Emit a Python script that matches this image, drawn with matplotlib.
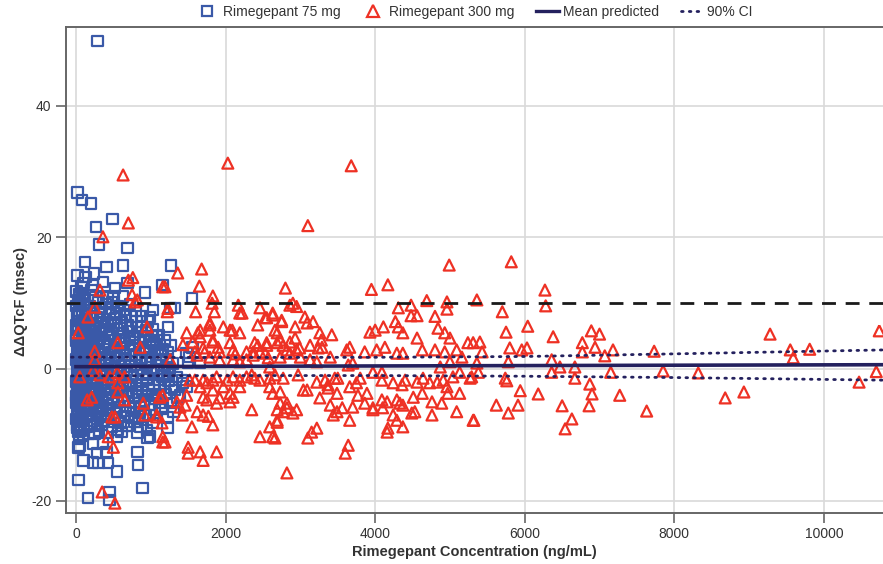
import matplotlib
matplotlib.use("Agg")
import matplotlib.pyplot as plt
from matplotlib.lines import Line2D

# ---- data ----
# Rimegepant 75 mg (blue squares): concentration (ng/mL), ddQTcF (msec)
blue_pts = [
    # outliers / edges
    (290, 49.9), (20, 26.8), (80, 25.7), (200, 25.2), (490, 22.8), (270, 21.6),
    (310, 18.9), (690, 18.4), (120, 16.3), (410, 15.5), (630, 15.7), (1270, 15.7),
    (20, 14.2), (130, 14.0), (240, 14.5), (360, 13.2), (690, 13.1), (1160, 12.8),
    (520, 12.3), (100, 13.1), (230, 12.8), (920, 11.6), (1550, 10.8), (1320, 9.3),
    (50, 11.3), (360, 11.0), (500, 11.0), (630, 11.0), (1030, 9.0), (1260, 9.3),
    (990, 7.9), (1080, 4.9), (1230, 6.4), (1560, 3.3), (1480, 2.4), (1500, 0.9),
    (1660, 0.9), (1520, 1.8), (1430, -2.1), (1350, -1.2), (1220, -0.2), (1360, -4.3),
    (1260, -5.2), (1120, -5.2), (1220, -7.3), (1030, -8.2), (950, -9.3), (860, -8.8),
    (820, -9.7), (1220, -9.0), (990, -10.3), (550, -10.3), (360, -11.3), (230, -11.3),
    (50, -11.6), (30, -11.9), (280, -12.8), (410, -12.6), (230, -14.2), (430, -14.3),
    (550, -15.6), (820, -12.6), (830, -14.6), (100, -13.9), (300, -14.3), (30, -16.9),
    (160, -19.6), (450, -18.7), (450, -19.9), (890, -18.1), (960, -10.5), (1420, -1.7),
    (1480, -2.7), (1320, -3.2), (1390, -4.0), (1300, -6.5), (1160, -5.8),
    # dense cluster, 0-100
    (10, 11.8), (30, 10.5), (5, 9.6), (40, 8.8), (15, 8.0), (50, 7.3), (0, 6.6),
    (25, 5.9), (45, 5.0), (8, 4.3), (35, 3.6), (18, 2.8), (55, 2.1), (2, 1.4),
    (28, 0.7), (42, 0.0), (12, -0.6), (38, -1.3), (6, -2.0), (50, -2.7), (22, -3.4),
    (0, -4.1), (33, -4.8), (48, -5.5), (14, -6.2), (26, -6.9), (4, -7.6), (44, -8.4),
    (20, -9.0), (36, -9.6),
    (60, 10.0), (20, 8.4), (70, 7.0), (35, 6.3), (90, 5.6), (10, 4.9), (60, 3.9),
    (25, 3.1), (85, 2.4), (45, 1.8), (15, 1.0), (65, 0.3), (30, -0.3), (80, -1.0),
    (55, -1.7), (18, -2.4), (70, -3.0), (40, -3.7), (88, -4.4), (8, -5.1), (62, -5.8),
    (30, -6.5), (75, -7.2), (52, -8.0), (15, -8.6), (65, -9.4), (95, -10.2), (40, -10.6),
    # 100-300
    (70, 12.4), (90, 11.0), (120, 9.9), (150, 8.9), (80, 8.2), (110, 7.4), (170, 6.8),
    (65, 6.1), (140, 5.5), (190, 4.9), (95, 4.4), (130, 3.9), (175, 3.3), (75, 2.7),
    (160, 2.2), (105, 1.6), (185, 1.1), (85, 0.5), (145, -0.1), (115, -0.7), (195, -1.3),
    (68, -1.9), (135, -2.5), (165, -3.1), (100, -3.7), (180, -4.3), (78, -4.9),
    (125, -5.6), (155, -6.3), (92, -7.0), (140, -7.8), (190, -8.4), (110, -9.2), (170, -9.9),
    (115, 10.6), (180, 9.6), (240, 9.3), (130, 8.2), (200, 7.7), (260, 6.9), (105, 6.5),
    (170, 5.9), (240, 4.7), (120, 4.9), (200, 4.1), (280, 3.8), (150, 3.1), (220, 2.5),
    (125, 2.0), (260, 1.7), (175, 0.9), (240, 0.2), (110, 0.1), (200, -0.4), (270, -0.9),
    (150, -1.6), (225, -2.2), (110, -2.8), (195, -3.4), (260, -3.0), (130, -4.2),
    (230, -4.8), (170, -5.3), (270, -5.6), (105, -6.0), (210, -7.1), (150, -8.8),
    (250, -9.9), (290, -7.6),
    # 200-600
    (210, 12.0), (260, 10.9), (300, 10.1), (350, 9.3), (230, 8.6), (280, 7.8), (330, 7.1),
    (380, 6.5), (220, 5.8), (270, 5.2), (320, 4.6), (370, 4.0), (240, 3.4), (290, 2.8),
    (340, 2.2), (390, 1.6), (215, 1.0), (265, 0.4), (315, -0.2), (365, -0.8), (235, -1.4),
    (285, -2.0), (335, -2.6), (385, -3.2), (250, -3.9), (300, -4.5), (355, -5.1),
    (205, -5.8), (275, -6.5), (325, -7.2), (375, -7.9), (245, -8.6), (310, -9.4), (360, -6.0),
    (320, 8.6), (400, 9.9), (470, 9.1), (540, 8.5), (360, 7.6), (430, 7.1), (500, 6.6),
    (580, 6.2), (340, 5.8), (450, 5.1), (530, 4.4), (600, 3.9), (310, 3.4), (390, 3.0),
    (470, 2.5), (550, 2.0), (330, 1.2), (410, 0.6), (490, 0.1), (570, -0.4), (340, -1.1),
    (420, -1.7), (500, -2.2), (580, -2.7), (310, -3.5), (400, -3.9), (480, -4.3),
    (560, -4.7), (330, -5.7), (450, -5.9), (540, -6.6), (400, -6.9), (350, -8.4),
    (480, -8.8), (560, -9.3), (420, -9.7),
    # 400-900
    (420, 10.9), (480, 10.2), (560, 9.6), (640, 9.0), (450, 8.3), (530, 7.7), (610, 7.1),
    (690, 6.6), (410, 6.0), (490, 5.4), (570, 4.9), (650, 4.3), (430, 3.8), (510, 3.2),
    (590, 2.7), (670, 2.1), (440, 1.6), (520, 1.0), (600, 0.5), (680, -0.1), (460, -0.6),
    (540, -1.2), (620, -1.8), (700, -2.3), (470, -2.9), (550, -3.5), (630, -4.1),
    (415, -4.6), (500, -5.2), (580, -5.8), (660, -6.4), (435, -7.0), (515, -7.6),
    (595, -8.2), (675, -8.7),
    (650, 8.2), (730, 8.0), (810, 7.2), (870, 6.5), (620, 5.5), (700, 5.8), (780, 4.7),
    (860, 4.1), (640, 3.2), (720, 2.8), (800, 2.2), (880, 1.7), (650, 1.4), (730, 0.4),
    (820, -0.3), (900, -0.9), (640, -0.6), (720, -2.5), (800, -3.0), (880, -3.5),
    (620, -3.0), (700, -4.9), (790, -5.2), (870, -5.6), (650, -7.2), (740, -7.4),
    (830, -7.6), (700, -8.6), (610, -9.6),
    # 700-1300
    (720, 9.9), (800, 8.9), (880, 8.0), (960, 7.2), (740, 6.3), (820, 5.6), (900, 4.9),
    (980, 4.2), (760, 3.6), (840, 3.0), (920, 2.4), (990, 1.8), (710, 1.2), (790, 0.6),
    (870, 0.0), (950, -0.6), (730, -1.2), (810, -1.8), (890, -2.4), (970, -3.0),
    (750, -3.6), (830, -4.2), (910, -4.8), (990, -5.4), (770, -6.0), (850, -6.6),
    (930, -7.1), (705, -4.0), (780, -8.0), (720, 5.0),
    (1020, 6.0), (1100, 5.2), (1180, 4.3), (1260, 3.6), (1050, 2.9), (1130, 2.2),
    (1210, 1.5), (1290, 0.8), (1000, 0.2), (1080, -0.5), (1160, -1.1), (1240, -1.8),
    (1040, -2.5), (1120, -3.2), (1200, -3.8), (1280, -2.8), (1060, -4.5), (1140, -6.1),
    (1030, 3.8), (1250, -0.2),
    (940, 5.9), (1010, 5.0), (1080, 3.7), (1160, 3.0), (930, 3.3), (1000, 2.6),
    (1070, 1.5), (1140, 0.6), (1220, 0.2), (960, 1.0), (1040, -0.2), (1110, -1.6),
    (1190, -2.3), (940, -1.6), (1020, -3.8), (1100, -4.1), (950, -4.1), (1050, -6.2),
    (980, -7.0), (1180, -1.0), (1230, 2.6),
]

# Rimegepant 300 mg (red triangles)
red_pts = [
    (630, 29.5), (2030, 31.3), (3680, 30.9), (3100, 21.8), (700, 22.2), (360, 20.1),
    (4990, 15.8), (5820, 16.3), (760, 13.9), (1360, 14.6), (1680, 15.2), (1650, 12.6),
    (2800, 12.3), (3950, 12.1), (4170, 12.8), (6270, 12.0), (1160, 12.5), (1190, 12.5),
    (320, 12.0),
    (2900, 10.0), (2950, 9.5), (2460, 9.3), (4310, 9.3), (4480, 9.7), (4480, 8.1),
    (4560, 8.1), (4690, 10.4), (4800, 8.0), (4960, 10.2), (4960, 9.1), (5360, 10.5),
    (6280, 9.6), (5700, 8.7), (1830, 11.1), (1820, 10.0), (1850, 8.7), (1600, 8.7),
    (2170, 9.7), (2220, 8.5), (820, 10.5), (750, 11.3), (250, 9.4), (160, 7.9), (1230, 9.2),
    (2530, 7.8), (2630, 8.2), (2430, 6.7), (2750, 7.4), (3060, 7.9), (3090, 7.0),
    (3170, 7.2), (2660, 5.9), (2690, 5.5), (3260, 5.5), (3420, 5.2), (3280, 4.4),
    (2730, 4.4), (2770, 3.6), (2690, 4.0), (2430, 3.6), (2550, 4.0), (2930, 4.7),
    (3130, 3.6), (3240, 3.2), (3290, 3.3), (2820, 2.9), (2990, 3.2), (2860, 2.4),
    (3620, 2.9), (3660, 3.3), (3860, 2.6), (3930, 5.6), (4000, 5.9), (4110, 6.4),
    (4270, 7.2), (4310, 6.4), (4370, 5.5), (4840, 6.2), (4930, 5.5), (5000, 4.7),
    (4560, 4.7), (4020, 2.9), (4130, 3.3), (4290, 2.4), (4370, 2.4), (4630, 2.9),
    (4800, 2.9), (4930, 2.6), (5090, 2.9), (5240, 4.0), (5310, 4.0), (5400, 4.1),
    (5160, 1.8), (4870, 0.3), (5000, 1.1), (3640, 0.6), (3700, 0.9), (3400, 1.8),
    (2370, 2.1), (2530, 2.4), (2570, 1.7), (3000, 1.8), (3130, 1.4), (3220, 1.1), (2590, 0.3),
    (1660, 5.9), (1790, 6.7), (1790, 5.9), (1970, 6.4), (2060, 5.9), (2190, 5.5),
    (1480, 5.5), (1430, 3.7), (1560, 4.1), (1700, 3.2), (1830, 4.1), (1920, 2.6),
    (2060, 4.0), (2100, 2.9), (2390, 4.0), (2550, 3.6), (2860, 4.1), (2950, 2.9),
    (2370, 2.6), (2460, 2.6), (2730, 1.8), (1620, 2.1), (1790, 1.8), (1920, 1.4),
    (2100, 1.4), (2190, 1.1), (2280, 1.4), (2190, 8.5), (2630, 8.5), (2860, 9.7),
    (2750, 7.2), (2930, 6.4), (2550, 7.8), (1630, 5.5), (1790, 7.0), (1660, 4.9),
    (2090, 5.9), (1830, 4.4), (1590, 2.6), (1720, 2.6), (1900, 3.3), (2130, 2.3),
    (2280, 2.6), (1260, 1.4),
    (2390, -1.4), (2350, -0.9), (2660, -0.9), (2770, -1.4), (2970, -0.9), (3970, -0.5),
    (4090, -0.5), (4090, -1.7), (4240, -2.1), (4360, -2.4), (4400, -1.7), (4560, -2.0),
    (4640, -1.4), (4730, -2.1), (4830, -2.0), (4910, -1.7), (4960, -2.7), (5040, -1.2),
    (5130, -0.5), (5270, -1.4), (3220, -2.0), (3330, -1.7), (3370, -2.4), (3460, -1.4),
    (3500, -1.4), (3660, -2.7), (3750, -2.1), (3800, -1.4), (2730, -3.5), (3040, -3.2),
    (3090, -3.2), (3370, -2.9), (3490, -3.7), (3260, -4.4), (3770, -4.0), (3890, -3.7),
    (3860, -5.2), (3970, -5.9), (4090, -4.7), (4160, -5.0), (4290, -4.7), (4330, -5.2),
    (4370, -5.5), (4510, -4.3), (4630, -3.7), (4760, -5.0), (4890, -5.2), (4970, -3.7),
    (5130, -3.7), (2730, -5.2), (2820, -5.9), (2900, -6.7), (2950, -6.2), (3400, -5.5),
    (3560, -5.9), (3700, -5.8), (3440, -7.0), (3490, -6.5), (3660, -7.8), (3970, -6.2),
    (4100, -5.9), (4240, -7.0), (4290, -7.8), (4370, -8.8), (4490, -6.7), (4530, -6.5),
    (4760, -7.0), (5090, -6.5), (5310, -7.8), (2350, -6.2), (2590, -8.8), (2690, -8.1),
    (2460, -10.3), (2660, -10.5), (3100, -10.5), (3150, -9.6), (3220, -9.0), (4160, -9.6),
    (4170, -9.0), (3640, -11.6), (3600, -12.8), (2820, -15.8),
    (1700, -1.7), (1830, -1.7), (2020, -1.7), (2100, -1.2), (2190, -1.7), (2280, -1.2),
    (2460, -1.7), (2590, -1.4), (1520, -1.7), (1660, -2.7), (1830, -3.2), (1970, -2.7),
    (2060, -3.7), (2190, -2.7), (1480, -4.0), (1350, -5.0), (1750, -4.7), (1700, -4.3),
    (1920, -4.4), (1880, -5.2), (2060, -5.0), (2100, -4.3), (1620, -6.5), (1700, -7.0),
    (1770, -7.2), (1830, -8.5), (1420, -7.0), (1550, -8.8), (2690, -6.2), (2770, -6.5),
    (2820, -5.2), (2630, -3.7), (2590, -2.7), (2690, -7.8), (2630, -10.3), (1160, -10.3),
    (1160, -11.1), (1500, -11.9), (1500, -12.8), (1660, -12.6), (1700, -13.9), (1880, -12.6),
    (1390, -5.8), (1120, -4.3), (1080, -7.0), (900, -5.2), (1590, -1.7), (1750, -2.1),
    (1880, -1.2), (1460, -5.5),
    (5360, 0.9), (5380, -0.5), (5290, -1.2), (5430, 2.6), (5800, 3.2), (5780, 1.1),
    (5960, 2.9), (6030, 3.2), (5740, -1.4), (5760, -1.8), (6360, 1.4), (6360, -0.5),
    (6470, 0.3), (6670, 0.3), (6670, -1.4), (6770, 4.0), (6770, 2.6), (6890, 5.8),
    (7000, 5.3), (6940, 3.3), (7070, 2.0), (7180, 2.9), (7730, 2.7), (7150, -0.5),
    (7850, -0.3), (8320, -0.6), (5940, -3.3), (6180, -3.8), (5620, -5.5), (5780, -6.7),
    (5910, -5.5), (6870, -2.3), (6900, -3.8), (6860, -5.6), (7270, -4.0), (6500, -5.6),
    (6630, -7.6), (6540, -9.1), (7630, -6.4), (5320, -7.8), (9280, 5.3), (10740, 5.8),
    (9550, 2.9), (9590, 1.7), (9810, 3.0), (10700, -0.4), (10470, -2.0), (8680, -4.4),
    (8930, -3.5), (6380, 4.9), (6040, 6.5), (5750, 5.6),
    (30, 5.5), (560, 4.0), (230, -0.2), (50, -1.2), (450, -1.2), (650, -1.2), (560, -3.5),
    (650, -4.7), (920, -7.0), (1150, -8.2), (430, -10.3), (550, -0.5), (320, -0.9),
    (560, -2.1), (1160, -4.0), (1080, -7.3), (480, -7.3), (520, -7.3), (210, -4.3),
    (150, -4.7), (1190, -11.1), (500, -11.9), (350, -18.7), (520, -20.4), (860, 3.3),
    (250, 2.7), (250, 1.4), (950, 6.4), (790, 10.2), (700, 13.5), (1220, 8.7),
]

# model lines
mean_x = [0, 10800]
mean_y = [0.35, 0.65]
ci_x = [-60, 2000, 4000, 6000, 8000, 10800]
ci_upper = [1.8, 1.75, 1.78, 1.9, 2.3, 2.9]
ci_lower = [-1.05, -1.0, -1.0, -1.1, -1.3, -1.7]
threshold = 10

blue = "#3a59a8"
red = "#ee3124"
navy = "#24215e"

plt.rcParams["font.family"] = ["Liberation Sans", "DejaVu Sans"]
plt.rcParams["axes.unicode_minus"] = False

fig = plt.figure(figsize=(8.83, 5.64), dpi=100)
ax = fig.add_axes([0.0747, 0.0904, 0.9253, 0.8617])

bx = [p[0] for p in blue_pts]
by = [p[1] for p in blue_pts]
rx = [p[0] for p in red_pts]
ry = [p[1] for p in red_pts]

ax.scatter(bx, by, marker="s", s=58, facecolors="none", edgecolors=blue,
           linewidths=1.6, zorder=3)
ax.scatter(rx, ry, marker="^", s=62, facecolors="none", edgecolors=red,
           linewidths=1.6, zorder=4)

ax.axhline(threshold, color="#1a1a1a", lw=2, ls=(0, (5, 3.5)), zorder=5)
ax.plot(mean_x, mean_y, color=navy, lw=2.6, zorder=6)
ax.plot(ci_x, ci_upper, color=navy, lw=2, ls=(0, (0.6, 2.2)),
        dash_capstyle="round", zorder=6)
ax.plot(ci_x, ci_lower, color=navy, lw=2, ls=(0, (0.6, 2.2)),
        dash_capstyle="round", zorder=6)

ax.set_xlim(-134, 10790)
ax.set_ylim(-21.9, 52)
ax.set_xticks([0, 2000, 4000, 6000, 8000, 10000])
ax.set_yticks([-20, 0, 20, 40])
ax.grid(True, color="#d9d9d9", lw=1.2, zorder=0)
ax.set_axisbelow(True)

for side in ["left", "bottom", "top"]:
    ax.spines[side].set_color("#666666")
    ax.spines[side].set_linewidth(1.4)
ax.spines["right"].set_visible(False)
ax.tick_params(axis="both", direction="out", length=7, width=1.2,
               color="#666666", labelsize=10, labelcolor="#333333")
ax.tick_params(axis="x", pad=3)

ax.set_xlabel("Rimegepant Concentration (ng/mL)", fontsize=10.5,
              fontweight="bold", color="#333333", labelpad=3)
ax.set_ylabel("\u0394\u0394QTcF (msec)", fontsize=10.5, fontweight="bold",
              color="#333333")
ax.yaxis.set_label_coords(-0.047, 0.436)

handles = [
    Line2D([], [], marker="s", ls="none", mfc="none", mec=blue, mew=1.6, ms=7.5),
    Line2D([], [], marker="^", ls="none", mfc="none", mec=red, mew=1.6, ms=8),
    Line2D([], [], color=navy, lw=2.4),
    Line2D([], [], color=navy, lw=2, ls=(0, (0.6, 2.2)), dash_capstyle="round"),
]
labels = ["Rimegepant 75 mg", "Rimegepant 300 mg", "Mean predicted", "90% CI"]
ax.legend(handles, labels, loc="lower center", bbox_to_anchor=(0.5, 1.0),
          ncol=4, frameon=False, fontsize=10, handlelength=1.6,
          handletextpad=0.3, columnspacing=1.6, borderaxespad=0.2,
          labelcolor="#333333")

fig.savefig("out.png", dpi=100)
